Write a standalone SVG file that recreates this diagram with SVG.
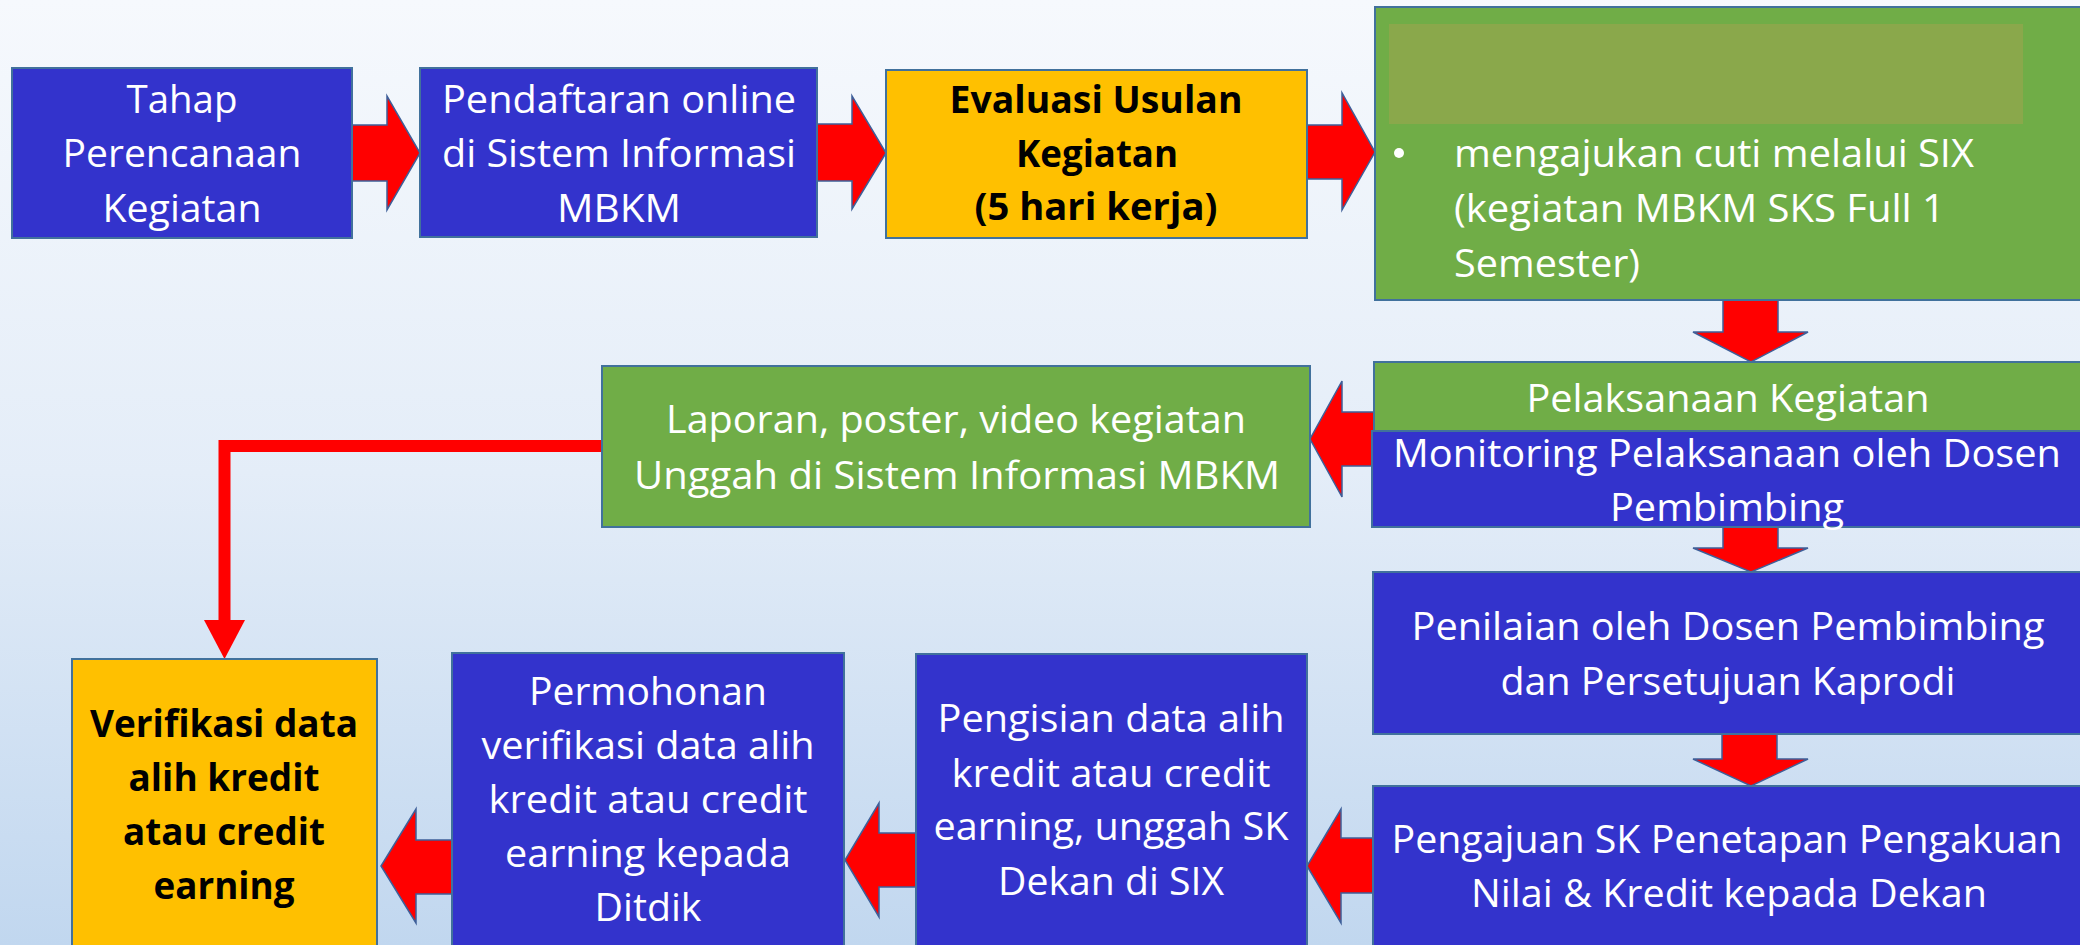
<svg xmlns="http://www.w3.org/2000/svg" width="2080" height="945" viewBox="0 0 2080 945">
<defs>
<linearGradient id="bg" x1="0" y1="0" x2="0" y2="1">
<stop offset="0" stop-color="#f6f9fd"/>
<stop offset="0.5" stop-color="#e4edf8"/>
<stop offset="1" stop-color="#c1d7ef"/>
</linearGradient>
<style>
.box{stroke:#41719c;stroke-width:2}
.blue{fill:#3333cc}
.green{fill:#70ad47}
.yellow{fill:#ffc000}
.t{font-family:"Open Sans","Noto Sans",sans-serif;font-size:38px;fill:#ffffff;text-anchor:middle}
.b{font-family:"Open Sans","Noto Sans",sans-serif;font-size:38px;font-weight:bold;fill:#000000;text-anchor:middle}
.l{text-anchor:start}
.arr{fill:#ff0000;stroke:#3e5f99;stroke-width:1.5;stroke-linejoin:miter}
.line{fill:none;stroke:#ff0000;stroke-width:12}
</style>
</defs>
<rect x="0" y="0" width="2080" height="945" fill="url(#bg)"/>

<g id="connectors">
<polygon class="arr" points="352,125 387,125 387,96 420,153 387,210 387,181 352,181"/>
<polygon class="arr" points="817,124 852,124 852,96 886,153 852,209 852,181 817,181"/>
<polygon class="arr" points="1307,125 1342,125 1342,93 1375,152 1342,210 1342,179 1307,179"/>
<polygon class="arr" points="1723,300 1778,300 1778,332 1808,332 1751,362 1693,332 1723,332"/>
<polygon class="arr" points="1723,527 1778,527 1778,548 1808,548 1751,572 1693,548 1723,548"/>
<polygon class="arr" points="1722,734 1777,734 1777,759 1808,759 1751,786 1693,759 1722,759"/>
<polygon class="arr" points="1373,838 1341,838 1341,809 1307,866 1341,923 1341,893 1373,893"/>
<polygon class="arr" points="916,833 879,833 879,803 845,860 879,917 879,887 916,887"/>
<polygon class="arr" points="452,840 416,840 416,809 381,866 416,923 416,894 452,894"/>
<polygon class="arr" points="1374,412 1342,412 1342,381 1310,439 1342,497 1342,466 1374,466"/>
<polyline class="line" points="602,446 224.5,446 224.5,622"/>
<polygon fill="#ff0000" points="204,620 245,620 224.5,659"/>
</g>

<g id="n1">
<rect class="box blue" x="12" y="68" width="340" height="170"/>
<text class="t" x="182" y="113" textLength="111" lengthAdjust="spacingAndGlyphs">Tahap</text>
<text class="t" x="182" y="167" textLength="239" lengthAdjust="spacingAndGlyphs">Perencanaan</text>
<text class="t" x="182" y="222" textLength="159" lengthAdjust="spacingAndGlyphs">Kegiatan</text>
</g>

<g id="n2">
<rect class="box blue" x="420" y="68" width="397" height="169"/>
<text class="t" x="619" y="113" textLength="354" lengthAdjust="spacingAndGlyphs">Pendaftaran online</text>
<text class="t" x="619" y="167" textLength="354" lengthAdjust="spacingAndGlyphs">di Sistem Informasi</text>
<text class="t" x="619" y="222" textLength="124" lengthAdjust="spacingAndGlyphs">MBKM</text>
</g>

<g id="n3">
<rect class="box yellow" x="886" y="70" width="421" height="168"/>
<text class="b" x="1096" y="113" textLength="293" lengthAdjust="spacingAndGlyphs">Evaluasi Usulan</text>
<text class="b" x="1097" y="167" textLength="162" lengthAdjust="spacingAndGlyphs">Kegiatan</text>
<text class="b" x="1096" y="220" textLength="243" lengthAdjust="spacingAndGlyphs">(5 hari kerja)</text>
</g>

<g id="n4">
<rect class="box green" x="1375" y="7" width="720" height="293"/>
<rect x="1389" y="24" width="634" height="100" fill="#8aa84b"/>
<circle cx="1399" cy="153" r="5" fill="#ffffff"/>
<text class="t l" x="1454" y="167" textLength="520" lengthAdjust="spacingAndGlyphs">mengajukan cuti melalui SIX</text>
<text class="t l" x="1454" y="222" textLength="491" lengthAdjust="spacingAndGlyphs">(kegiatan MBKM SKS Full 1</text>
<text class="t l" x="1454" y="277" textLength="186" lengthAdjust="spacingAndGlyphs">Semester)</text>
</g>

<g id="n5">
<rect class="box green" x="1374" y="362" width="720" height="69"/>
<text class="t" x="1728" y="412" textLength="403" lengthAdjust="spacingAndGlyphs">Pelaksanaan Kegiatan</text>
</g>

<g id="n6">
<rect class="box blue" x="1372" y="431" width="722" height="96"/>
<text class="t" x="1727" y="467" textLength="668" lengthAdjust="spacingAndGlyphs">Monitoring Pelaksanaan oleh Dosen</text>
<text class="t" x="1727" y="521" textLength="234" lengthAdjust="spacingAndGlyphs">Pembimbing</text>
</g>

<g id="n7">
<rect class="box blue" x="1373" y="572" width="722" height="162"/>
<text class="t" x="1728" y="640" textLength="633" lengthAdjust="spacingAndGlyphs">Penilaian oleh Dosen Pembimbing</text>
<text class="t" x="1728" y="695" textLength="455" lengthAdjust="spacingAndGlyphs">dan Persetujuan Kaprodi</text>
</g>

<g id="n8">
<rect class="box blue" x="1373" y="786" width="722" height="175"/>
<text class="t" x="1727" y="853" textLength="671" lengthAdjust="spacingAndGlyphs">Pengajuan SK Penetapan Pengakuan</text>
<text class="t" x="1729" y="907" textLength="516" lengthAdjust="spacingAndGlyphs">Nilai &amp; Kredit kepada Dekan</text>
</g>

<g id="n9">
<rect class="box blue" x="916" y="654" width="391" height="307"/>
<text class="t" x="1111" y="732" textLength="347" lengthAdjust="spacingAndGlyphs">Pengisian data alih</text>
<text class="t" x="1111" y="787" textLength="319" lengthAdjust="spacingAndGlyphs">kredit atau credit</text>
<text class="t" x="1111" y="840" textLength="355" lengthAdjust="spacingAndGlyphs">earning, unggah SK</text>
<text class="t" x="1111" y="895" textLength="226" lengthAdjust="spacingAndGlyphs">Dekan di SIX</text>
</g>

<g id="n10">
<rect class="box blue" x="452" y="653" width="392" height="308"/>
<text class="t" x="648" y="705" textLength="238" lengthAdjust="spacingAndGlyphs">Permohonan</text>
<text class="t" x="648" y="759" textLength="333" lengthAdjust="spacingAndGlyphs">verifikasi data alih</text>
<text class="t" x="648" y="813" textLength="319" lengthAdjust="spacingAndGlyphs">kredit atau credit</text>
<text class="t" x="648" y="867" textLength="286" lengthAdjust="spacingAndGlyphs">earning kepada</text>
<text class="t" x="648" y="921" textLength="107" lengthAdjust="spacingAndGlyphs">Ditdik</text>
</g>

<g id="n11">
<rect class="box yellow" x="72" y="659" width="305" height="302"/>
<text class="b" x="224" y="737" textLength="268" lengthAdjust="spacingAndGlyphs">Verifikasi data</text>
<text class="b" x="224" y="791" textLength="191" lengthAdjust="spacingAndGlyphs">alih kredit</text>
<text class="b" x="224" y="845" textLength="202" lengthAdjust="spacingAndGlyphs">atau credit</text>
<text class="b" x="224" y="899" textLength="141" lengthAdjust="spacingAndGlyphs">earning</text>
</g>

<g id="n12">
<rect class="box green" x="602" y="366" width="708" height="161"/>
<text class="t" x="956" y="433" textLength="580" lengthAdjust="spacingAndGlyphs">Laporan, poster, video kegiatan</text>
<text class="t" x="957" y="489" textLength="646" lengthAdjust="spacingAndGlyphs">Unggah di Sistem Informasi MBKM</text>
</g>
</svg>
